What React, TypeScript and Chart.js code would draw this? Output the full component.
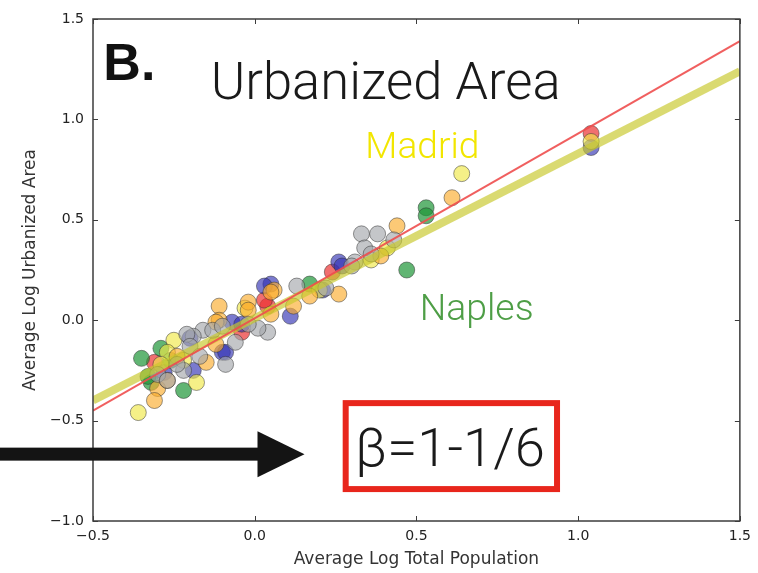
import React, { useEffect, useRef } from "react";
import { Chart, registerables } from "chart.js";

Chart.register(...registerables);

// ---- data ----
const xTicks = [-0.5, 0, 0.5, 1.0, 1.5];
const yTicks = [-1.0, -0.5, 0, 0.5, 1.0, 1.5];

const grayPts: number[][] = [
  [0.33, 0.43], [0.38, 0.43], [0.34, 0.36], [0.43, 0.40], [0.31, 0.29], [0.36, 0.33],
  [0.13, 0.17], [0.22, 0.16], [0.04, -0.06], [-0.06, -0.11], [-0.09, -0.22], [-0.16, -0.05],
  [-0.19, -0.08], [0.01, -0.04], [-0.22, -0.25], [-0.21, -0.07], [-0.20, -0.13], [-0.17, -0.18],
  [-0.13, -0.05], [-0.30, -0.27], [-0.27, -0.30], [-0.10, -0.03], [0.30, 0.27], [-0.02, -0.02],
  [-0.24, -0.22],
];
const orangePts: number[][] = [
  [0.61, 0.61], [0.44, 0.47], [0.26, 0.13], [0.12, 0.07], [0.06, 0.15], [0.05, 0.14],
  [-0.02, 0.09], [-0.11, 0.07], [-0.11, 0.0], [0.05, 0.03], [-0.12, -0.12], [-0.30, -0.34],
  [-0.31, -0.40], [-0.27, -0.30], [-0.15, -0.21], [-0.12, -0.01], [-0.02, 0.05], [0.39, 0.32],
  [0.17, 0.12], [-0.24, -0.18],
];
const yellowPts: number[][] = [
  [1.04, 0.89], [0.64, 0.73], [-0.25, -0.10], [-0.27, -0.16], [-0.36, -0.46], [-0.18, -0.31],
  [0.41, 0.36], [0.36, 0.30], [-0.03, 0.06], [-0.22, -0.20], [0.20, 0.15], [-0.29, -0.22],
];
const greenPts: number[][] = [
  [0.53, 0.56], [0.53, 0.52], [0.47, 0.25], [0.17, 0.18], [-0.35, -0.19], [-0.29, -0.14],
  [-0.32, -0.31], [-0.22, -0.35], [-0.26, -0.20], [-0.33, -0.28],
];
const bluePts: number[][] = [
  [1.04, 0.86], [0.26, 0.29], [0.27, 0.27], [0.11, 0.02], [0.05, 0.18], [0.03, 0.17],
  [0.21, 0.15], [-0.07, -0.01], [-0.10, -0.16], [-0.09, -0.16], [-0.19, -0.25], [-0.04, -0.02],
  [-0.20, -0.09], [-0.28, -0.26],
];
const redPts: number[][] = [
  [1.04, 0.93], [0.24, 0.24], [0.04, 0.07], [-0.04, -0.06], [-0.31, -0.21], [0.03, 0.10],
];

const fitX = [-0.5, 1.5];
const redFitY = [-0.45, 1.39];
const yellowFitY = [-0.40, 1.24];

const fmt = (v: number) => {
  const s = Math.abs(v).toFixed(1);
  return v < 0 ? "\u2212" + s : s;
};

const toXY = (arr: number[][]) => arr.map(([x, y]) => ({ x, y }));

function fitText(ctx: CanvasRenderingContext2D, text: string, weight: string, family: string, target: number, guess: number) {
  ctx.font = `${weight} ${guess}px ${family}`;
  const w = ctx.measureText(text).width;
  const size = guess * (target / w);
  ctx.font = `${weight} ${size}px ${family}`;
}

const overlay = {
  id: "overlay",
  afterDatasetsDraw(chart: any) {
    const { ctx, chartArea: a, scales } = chart;
    const xs = scales.x, ys = scales.y;
    ctx.save();
    ctx.strokeStyle = "#3c3c3c";
    ctx.lineWidth = 1.5;
    ctx.strokeRect(a.left, a.top, a.right - a.left, a.bottom - a.top);
    ctx.lineWidth = 1;
    const L = 5;
    ctx.beginPath();
    for (const v of xTicks) {
      const p = Math.round(xs.getPixelForValue(v)) + 0.5;
      ctx.moveTo(p, a.bottom); ctx.lineTo(p, a.bottom - L);
      ctx.moveTo(p, a.top); ctx.lineTo(p, a.top + L);
    }
    for (const v of yTicks) {
      const p = Math.round(ys.getPixelForValue(v)) + 0.5;
      ctx.moveTo(a.left, p); ctx.lineTo(a.left + L, p);
      ctx.moveTo(a.right, p); ctx.lineTo(a.right - L, p);
    }
    ctx.stroke();
    ctx.restore();
  },
  afterDraw(chart: any) {
    const { ctx, scales } = chart;
    const X = (v: number) => scales.x.getPixelForValue(v);
    const Y = (v: number) => scales.y.getPixelForValue(v);
    ctx.save();
    ctx.textBaseline = "alphabetic";
    ctx.textAlign = "left";
    const light = "'Roboto', 'Liberation Sans', sans-serif";

    // B.
    ctx.fillStyle = "#111";
    fitText(ctx, "B.", "bold", "'Liberation Sans', Arial, sans-serif", 52, 52);
    ctx.fillText("B.", X(-0.468), Y(1.195));

    // title
    ctx.fillStyle = "#1a1a1a";
    fitText(ctx, "Urbanized Area", "300", light, 350, 50);
    ctx.fillText("Urbanized Area", X(-0.136), Y(1.10));

    // Madrid
    ctx.fillStyle = "#f2e600";
    fitText(ctx, "Madrid", "300", light, 114, 36);
    ctx.fillText("Madrid", X(0.342), Y(0.81));

    // Naples
    ctx.fillStyle = "#4e9e46";
    fitText(ctx, "Naples", "300", light, 114, 36);
    ctx.fillText("Naples", X(0.51), Y(0.0));

    // red box
    const bx0 = X(0.272), bx1 = X(0.944), by0 = Y(-0.398), by1 = Y(-0.856);
    ctx.strokeStyle = "#e8261c";
    ctx.lineWidth = 6;
    ctx.strokeRect(bx0 + 3, by0 + 3, bx1 - bx0 - 6, by1 - by0 - 6);
    ctx.fillStyle = "#1a1a1a";
    fitText(ctx, "\u03b2=1-1/6", "300", light, 190, 52);
    ctx.fillText("\u03b2=1-1/6", X(0.31), Y(-0.727));

    // arrow
    const tipX = X(0.154), tipY = Y(-0.667);
    ctx.fillStyle = "#141414";
    ctx.fillRect(0, tipY - 6.5, tipX - 44, 13);
    ctx.beginPath();
    ctx.moveTo(tipX, tipY);
    ctx.lineTo(tipX - 47, tipY - 23);
    ctx.lineTo(tipX - 47, tipY + 23);
    ctx.closePath();
    ctx.fill();
    ctx.restore();
  },
};

const pointSet = (label: string, pts: number[][], fill: string) => ({
  type: "scatter" as const,
  label,
  data: toXY(pts),
  backgroundColor: fill,
  borderColor: "rgba(50,50,50,0.5)",
  borderWidth: 1,
  pointRadius: 8,
  order: 2,
});

export default function App() {
  const ref = useRef<HTMLCanvasElement>(null);
  useEffect(() => {
    if (!ref.current) return;
    const chart = new Chart(ref.current, {
      type: "scatter",
      data: {
        datasets: [
          {
            type: "line",
            label: "fit",
            data: fitX.map((x, i) => ({ x, y: redFitY[i] })),
            borderColor: "rgba(238,78,78,0.9)",
            borderWidth: 2,
            pointRadius: 0,
            fill: false,
            order: 0,
          } as any,
          {
            type: "line",
            label: "beta",
            data: fitX.map((x, i) => ({ x, y: yellowFitY[i] })),
            borderColor: "rgba(200,200,45,0.68)",
            borderWidth: 8,
            pointRadius: 0,
            fill: false,
            order: 1,
          } as any,
          pointSet("gray", grayPts, "rgba(165,168,172,0.65)"),
          pointSet("orange", orangePts, "rgba(250,172,45,0.65)"),
          pointSet("yellow", yellowPts, "rgba(240,232,70,0.65)"),
          pointSet("green", greenPts, "rgba(30,150,55,0.7)"),
          pointSet("blue", bluePts, "rgba(50,50,180,0.65)"),
          pointSet("red", redPts, "rgba(235,50,50,0.7)"),
        ],
      },
      options: {
        animation: false,
        responsive: false,
        layout: { padding: { top: 19, right: 17, left: 0, bottom: 0 } },
        plugins: { legend: { display: false }, tooltip: { enabled: false } },
        scales: {
          x: {
            type: "linear",
            min: -0.5,
            max: 1.5,
            afterFit: (s: any) => { s.height = 52; },
            afterBuildTicks: (s: any) => { s.ticks = xTicks.map((v) => ({ value: v })); },
            ticks: {
              callback: (v: any) => fmt(Number(v)),
              color: "#222",
              font: { family: "'DejaVu Sans'", size: 14 },
              padding: 7,
              maxRotation: 0,
            },
            grid: { display: false, drawTicks: false },
            border: { display: false },
            title: {
              display: true,
              text: "Average Log Total Population",
              color: "#333",
              font: { family: "'DejaVu Sans'", size: 17 },
              padding: { top: 0, bottom: 3 },
            },
          },
          y: {
            type: "linear",
            min: -1.0,
            max: 1.5,
            afterFit: (s: any) => { s.width = 93; },
            afterBuildTicks: (s: any) => { s.ticks = yTicks.map((v) => ({ value: v })); },
            ticks: {
              callback: (v: any) => fmt(Number(v)),
              color: "#222",
              font: { family: "'DejaVu Sans'", size: 14 },
              padding: 9,
            },
            grid: { display: false, drawTicks: false },
            border: { display: false },
            title: {
              display: true,
              text: "Average Log Urbanized Area",
              color: "#333",
              font: { family: "'DejaVu Sans'", size: 17 },
              padding: { top: 20, bottom: 0 },
            },
          },
        },
      },
      plugins: [overlay],
    } as any);
    return () => chart.destroy();
  }, []);
  return (
    <div style={{ position: "fixed", left: 0, top: 0, width: 758, height: 573, background: "#fff" }}>
      <canvas ref={ref} width={758} height={573} style={{ width: 758, height: 573 }} />
    </div>
  );
}
